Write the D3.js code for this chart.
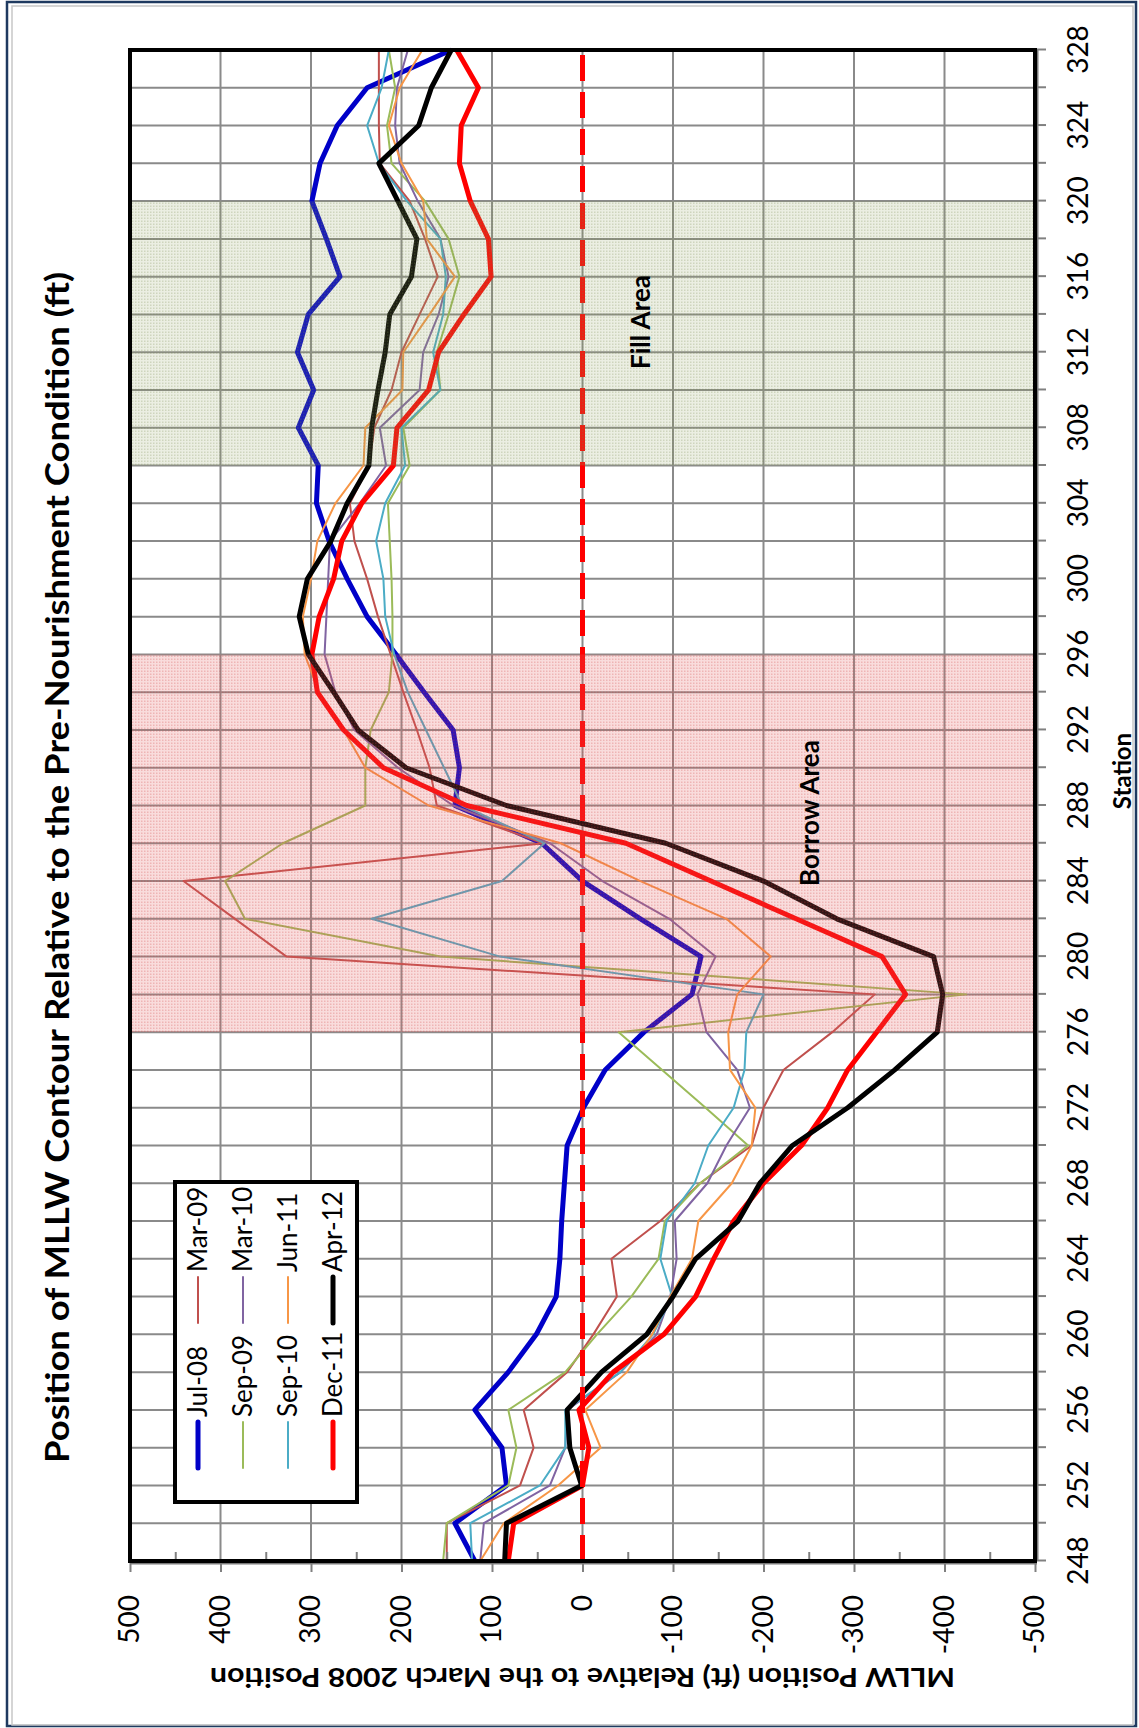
<!DOCTYPE html>
<html>
<head>
<meta charset="utf-8">
<script src="https://cdn.jsdelivr.net/npm/d3@7"></script>
<style>
  body { margin: 0; background: #fff; }
  svg { display: block; }
  text { font-family: Lato, "Open Sans", "Noto Sans", sans-serif; fill: #000; }
</style>
</head>
<body>
<svg id="chart" width="1139" height="1728"></svg>
<script>
// Station numbers along the shoreline (every 2 stations)
const stations = [248,250,252,254,256,258,260,262,264,266,268,270,272,274,276,278,280,282,284,286,
                  288,290,292,294,296,298,300,302,304,306,308,310,312,314,316,318,320,322,324,326,328];
const stationTicks = [248,252,256,260,264,268,272,276,280,284,288,292,296,300,304,308,312,316,320,324,328];
const valueTicks = [500,400,300,200,100,0,-100,-200,-300,-400,-500];
const valueMinorTicks = [450,350,250,150,50,-50,-150,-250,-350,-450];

// MLLW contour offset (ft) from the March 2008 position, per survey
const seriesNames = ["Jul-08","Mar-09","Sep-09","Mar-10","Sep-10","Jun-11","Dec-11","Apr-12"];
const jul08 = [119,141,84,89,119,82,51,29,25,23,20,17,-1,-25,-68,-121,-131,-64,0,45,
               141,136,143,175,206,238,260,280,294,292,314,297,315,303,268,283,299,290,271,238,145];
const mar09 = [150,150,69,54,65,17,-12,-38,-32,-86,-130,-187,-200,-222,-276,-323,327,384,441,43,
               161,169,183,198,212,226,238,252,257,236,230,211,200,180,160,174,191,224,225,225,225];
const sep09 = [154,150,82,73,82,19,-16,-54,-84,-91,-130,-183,-136,-88,-40,-424,157,373,395,331,
               240,240,234,214,210,210,211,213,215,191,198,157,161,148,136,148,174,211,216,207,214];
const mar10 = [113,109,36,19,17,-42,-82,-97,-104,-102,-138,-159,-185,-171,-137,-127,-147,-96,-22,36,
               143,204,252,273,285,283,281,279,246,217,224,180,176,159,148,157,182,202,207,205,193];
const sep10 = [122,124,47,19,19,-42,-78,-99,-86,-93,-124,-139,-167,-179,-181,-200,91,233,89,42,
               133,153,173,193,208,218,220,228,218,196,200,157,165,154,151,157,194,225,238,222,214];
const jun11 = [113,87,27,-20,-3,-49,-77,-97,-121,-128,-165,-187,-191,-163,-161,-171,-208,-159,-64,24,
               170,240,264,291,307,309,300,293,273,242,240,199,198,169,141,172,176,200,214,202,177];
const dec11 = [82,76,0,-7,4,-34,-90,-125,-145,-167,-200,-242,-271,-293,-325,-357,-331,-236,-142,-48,
               128,220,264,293,299,291,275,266,244,209,205,170,159,131,101,104,124,136,134,115,139];
const apr12 = [86,84,1,14,17,-21,-71,-100,-125,-172,-196,-232,-293,-345,-392,-398,-388,-281,-200,-92,
               84,195,248,275,303,313,304,278,260,236,233,226,218,213,189,183,204,225,181,167,145];
const seriesValues = [jul08, mar09, sep09, mar10, sep10, jun11, dec11, apr12];

// Project zones (station ranges)
const zoneNames = ["Borrow Area", "Fill Area"];
const zoneFrom = [276, 306];
const zoneTo = [296, 320];

// Styling per series
const seriesColors = ["#0000c8","#c0504d","#9bbb59","#8064a2","#4bacc6","#f79646","#ff0000","#000000"];
const seriesWidths = [5, 2, 2, 2, 2, 2, 5, 5];

const svg = d3.select("#chart");
const defs = svg.append("defs");

// Stippled semi-transparent fills for the zones
function stipple(id, base, dot) {
  const p = defs.append("pattern").attr("id", id)
    .attr("patternUnits", "userSpaceOnUse").attr("width", 3).attr("height", 3);
  p.append("rect").attr("width", 3).attr("height", 3).attr("fill", base);
  p.append("rect").attr("width", 1.5).attr("height", 1.5).attr("fill", dot);
}
stipple("borrowFill", "rgba(228,95,95,0.22)", "rgba(205,60,60,0.24)");
stipple("fillFill", "rgba(150,165,100,0.19)", "rgba(115,135,75,0.24)");
const zoneFills = ["url(#borrowFill)", "url(#fillFill)"];

// Outer frame
svg.append("rect").attr("x", 7).attr("y", 2).attr("width", 1129).attr("height", 1724)
  .attr("fill", "none").attr("stroke", "#1f3a60").attr("stroke-width", 2.5);
svg.append("rect").attr("x", 12).attr("y", 6).attr("width", 1121).attr("height", 1719)
  .attr("fill", "none").attr("stroke", "#c8c8c8").attr("stroke-width", 1.5);

// Chart is laid out sideways: draw in a rotated frame
const g = svg.append("g").attr("transform", "translate(0,1728) rotate(-90)");
const m = { left: 167, right: 1678, top: 130, bottom: 1035 };

const x = d3.scaleLinear().domain([248, 328]).range([m.left, m.right]);
const y = d3.scaleLinear().domain([-500, 500]).range([m.bottom, m.top]);

// Gridlines
const grid = g.append("g").attr("stroke", "#8a8a8a").attr("stroke-width", 2);
grid.selectAll("line.gx").data(stations).join("line").attr("class", "gx")
  .attr("x1", d => x(d)).attr("x2", d => x(d)).attr("y1", m.top).attr("y2", m.bottom);
grid.selectAll("line.gy").data(valueTicks).join("line").attr("class", "gy")
  .attr("x1", m.left).attr("x2", m.right).attr("y1", d => y(d)).attr("y2", d => y(d));

// Series lines
const line = d3.line().x((d, i) => x(stations[i])).y(d => y(d));
const lines = g.append("g").attr("fill", "none").attr("stroke-linejoin", "round");
seriesValues.forEach((vals, k) => {
  lines.append("path").datum(vals)
    .attr("d", line)
    .attr("stroke", seriesColors[k])
    .attr("stroke-width", seriesWidths[k]);
});

// Zero reference (March 2008 position)
g.append("line")
  .attr("x1", x(248)).attr("x2", x(328)).attr("y1", y(0)).attr("y2", y(0))
  .attr("stroke", "#ff0000").attr("stroke-width", 5).attr("stroke-dasharray", "26,11");

// Zone overlays
zoneNames.forEach((name, k) => {
  g.append("rect")
    .attr("x", x(zoneFrom[k])).attr("y", m.top)
    .attr("width", x(zoneTo[k]) - x(zoneFrom[k])).attr("height", m.bottom - m.top)
    .attr("fill", zoneFills[k]);
});
const zoneLabelStation = [287.6, 313.6];
const zoneLabelValue = [-250, -63];
zoneNames.forEach((name, k) => {
  g.append("text")
    .attr("x", x(zoneLabelStation[k]))
    .attr("y", y(zoneLabelValue[k]))
    .attr("text-anchor", "middle").attr("dominant-baseline", "central")
    .attr("font-weight", "bold").attr("font-size", 26)
    .text(name);
});

// Axes
const yAxis = d3.axisLeft(y).tickValues(valueTicks).tickSize(11).tickPadding(23)
  .tickFormat(d => String(d));
const yAxisG = g.append("g").attr("transform", `translate(${m.left},0)`).call(yAxis);
const yMinorG = g.append("g").attr("transform", `translate(${m.left},0)`)
  .call(d3.axisLeft(y).tickValues(valueMinorTicks).tickSize(-9).tickFormat(""));

const xAxis = d3.axisBottom(x).tickValues(stations).tickSize(11)
  .tickFormat(d => stationTicks.includes(d) ? String(d) : "");
const xAxisG = g.append("g").attr("transform", `translate(0,${m.bottom})`).call(xAxis);

[yAxisG, yMinorG, xAxisG].forEach(ax => {
  ax.select(".domain").remove();
  ax.selectAll(".tick line").attr("stroke", "#808080").attr("stroke-width", 2);
  ax.selectAll("text").attr("font-size", 28).attr("fill", "#000")
    .style("font-family", "Lato, 'Open Sans', sans-serif");
});
xAxisG.selectAll("text").attr("y", 53).attr("dy", 0);

// Axis lines and plot border
g.append("line").attr("x1", m.left - 2.5).attr("x2", m.left - 2.5)
  .attr("y1", m.top).attr("y2", m.bottom + 2).attr("stroke", "#7a7a7a").attr("stroke-width", 2);
g.append("line").attr("x1", m.left).attr("x2", m.right)
  .attr("y1", m.bottom + 2.5).attr("y2", m.bottom + 2.5).attr("stroke", "#7a7a7a").attr("stroke-width", 2);
g.append("rect").attr("x", m.left).attr("y", m.top)
  .attr("width", m.right - m.left).attr("height", m.bottom - m.top)
  .attr("fill", "none").attr("stroke", "#000").attr("stroke-width", 4);

// Titles
g.append("text")
  .attr("x", 265).attr("y", 69).attr("text-anchor", "start")
  .attr("font-weight", "bold").attr("font-size", 33)
  .attr("textLength", 1191).attr("lengthAdjust", "spacingAndGlyphs")
  .text("Position of MLLW Contour Relative to the Pre-Nourishment Condition (ft)");

g.append("text")
  .attr("transform", `translate(60,${y(0)}) rotate(-90)`)
  .attr("text-anchor", "middle")
  .attr("font-weight", "bold").attr("font-size", 26)
  .attr("textLength", 745).attr("lengthAdjust", "spacingAndGlyphs")
  .text("MLLW Position (ft) Relative to the March 2008 Position");

g.append("text")
  .attr("x", 957).attr("y", 1131).attr("text-anchor", "middle")
  .attr("font-weight", "bold").attr("font-size", 24)
  .text("Station");

// Legend (two columns, chronological order)
const legend = g.append("g");
legend.append("rect").attr("x", 226).attr("y", 175).attr("width", 320).attr("height", 182)
  .attr("fill", "#fff").attr("stroke", "#000").attr("stroke-width", 4);
const colStart = [260, 405];
seriesNames.forEach((name, i) => {
  const row = Math.floor(i / 2), col = i % 2;
  const cy = 198 + 45 * row;
  const lx = colStart[col];
  legend.append("line")
    .attr("x1", lx).attr("x2", lx + 46).attr("y1", cy).attr("y2", cy)
    .attr("stroke", seriesColors[i]).attr("stroke-width", seriesWidths[i])
    .attr("stroke-linecap", "round");
  legend.append("text")
    .attr("x", lx + 51).attr("y", cy).attr("dy", "0.35em")
    .attr("font-size", 26)
    .text(name);
});
</script>
</body>
</html>
